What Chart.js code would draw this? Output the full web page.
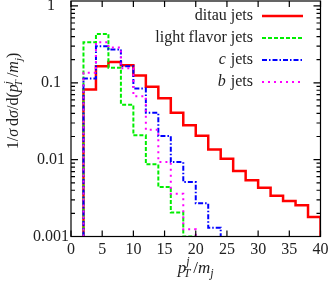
<!DOCTYPE html>
<html>
<head>
<meta charset="utf-8">
<script src="https://cdn.jsdelivr.net/npm/chart.js@4.4.1/dist/chart.umd.min.js"></script>
<style>
    html, body { margin: 0; padding: 0; background: #fff; }
    #wrap { width: 331px; height: 283px; }
</style>
</head>
<body>
<div id="wrap"><canvas id="chart"></canvas></div>
<script>
// Bin edges in p_T^j/m_j (bins are 2 wide, first one starts at 2)
const binEdges = [2, 4, 6, 8, 10, 12, 14, 16, 18, 20, 22, 24, 26, 28, 30, 32, 34, 36, 38, 40];

// Normalised distributions per bin (0 = empty bin)
const ditauJets = [0.082, 0.164, 0.186, 0.169, 0.124, 0.089, 0.063, 0.0407, 0.028, 0.0204,
                   0.0136, 0.0103, 0.0071, 0.0054, 0.0043, 0.0034, 0.0029, 0.00255, 0.0018];
const lightJets = [0.337, 0.433, 0.157, 0.052, 0.0207, 0.0087, 0.0044, 0.00205, 0.001, 0,
                   0, 0, 0, 0, 0, 0, 0, 0, 0];
const cJets     = [0.114, 0.299, 0.271, 0.164, 0.084, 0.0408, 0.0203, 0.0093, 0.0051, 0.0027,
                   0.0013, 0, 0, 0, 0, 0, 0, 0, 0];
const bJets     = [0.135, 0.337, 0.287, 0.155, 0.067, 0.0245, 0.0093, 0.0036, 0.00124, 0,
                   0, 0, 0, 0, 0, 0, 0, 0, 0];

const seriesNames = ['ditau jets', 'light flavor jets', 'c jets', 'b jets'];

const xTicks = [0, 5, 10, 15, 20, 25, 30, 35, 40];
const yTicks = [0.001, 0.01, 0.1, 1];
const yTickLabels = ['0.001', '0.01', '0.1', '1'];

const Y_MIN = 0.001;
const Y_MAX = 1.16;
const FONT = '"Liberation Serif", "Times New Roman", serif';

// turn bin values into points for a stepped line (drops to the floor at both ends)
function histPoints(vals) {
    const pts = [{ x: binEdges[0], y: Y_MIN }];
    let last = -1;
    vals.forEach((v, i) => {
        if (v > 0) {
            pts.push({ x: binEdges[i], y: v });
            last = i;
        }
    });
    pts.push({ x: binEdges[last + 1], y: Y_MIN });
    return pts;
}

// minor ticks 2..9 in every decade
const yMinor = [];
for (let d = 0; d < yTicks.length; d++) {
    for (let m = 2; m <= 9; m++) {
        const v = yTicks[d] * m;
        if (v <= Y_MAX) yMinor.push(v);
    }
}

// frame with inward ticks on all four sides
const frameTicks = {
    id: 'frameTicks',
    afterDatasetsDraw(chart) {
        const { ctx, chartArea: a, scales } = chart;
        ctx.save();
        ctx.strokeStyle = '#000';
        ctx.lineWidth = 1.2;
        ctx.strokeRect(a.left, a.top, a.right - a.left, a.bottom - a.top);
        ctx.beginPath();
        xTicks.forEach(v => {
            const px = scales.x.getPixelForValue(v);
            ctx.moveTo(px, a.bottom); ctx.lineTo(px, a.bottom - 6);
            ctx.moveTo(px, a.top); ctx.lineTo(px, a.top + 6);
        });
        yTicks.forEach(v => {
            const py = scales.y.getPixelForValue(v);
            ctx.moveTo(a.left, py); ctx.lineTo(a.left + 7, py);
            ctx.moveTo(a.right, py); ctx.lineTo(a.right - 7, py);
        });
        yMinor.forEach(v => {
            const py = scales.y.getPixelForValue(v);
            ctx.moveTo(a.left, py); ctx.lineTo(a.left + 4, py);
            ctx.moveTo(a.right, py); ctx.lineTo(a.right - 4, py);
        });
        ctx.stroke();
        ctx.restore();
    }
};

// draws a list of [text, italic, size, dy, extraGap] pieces starting at x
function drawPieces(ctx, pieces, x, y) {
    pieces.forEach(p => {
        ctx.font = (p[1] ? 'italic ' : '') + p[2] + 'px ' + FONT;
        ctx.fillText(p[0], x, y + p[3]);
        x += ctx.measureText(p[0]).width + (p[4] || 0);
    });
    return x;
}
function piecesWidth(ctx, pieces) {
    let w = 0;
    pieces.forEach(p => {
        ctx.font = (p[1] ? 'italic ' : '') + p[2] + 'px ' + FONT;
        w += ctx.measureText(p[0]).width + (p[4] || 0);
    });
    return w;
}

// legend in the top right corner, text right aligned, line sample to the right
const legendLabels = [
    [['ditau jets', false, 16, 0]],
    [['light flavor jets', false, 16, 0]],
    [['c', true, 16, 0, 1], [' jets', false, 16, 0]],
    [['b', true, 16, 0, 1], [' jets', false, 16, 0]]
];
const insideLegend = {
    id: 'insideLegend',
    afterDraw(chart) {
        const { ctx } = chart;
        ctx.save();
        ctx.fillStyle = '#222';
        ctx.textBaseline = 'middle';
        chart.data.datasets.forEach((ds, i) => {
            const y = 16 + i * 22;
            const w = piecesWidth(ctx, legendLabels[i]);
            drawPieces(ctx, legendLabels[i], 253 - w, y);
            ctx.strokeStyle = ds.borderColor;
            ctx.lineWidth = ds.borderWidth;
            ctx.setLineDash(ds.borderDash || []);
            ctx.beginPath();
            ctx.moveTo(262, y);
            ctx.lineTo(303, y);
            ctx.stroke();
            ctx.setLineDash([]);
        });
        ctx.restore();
    }
};

// axis titles with sub/superscripts
const axisTitles = {
    id: 'axisTitles',
    afterDraw(chart) {
        const { ctx, chartArea: a } = chart;
        ctx.save();
        ctx.fillStyle = '#222';
        ctx.textBaseline = 'alphabetic';

        const xPieces = [
            ['p', true, 17, 0],
            ['j', true, 12, -8, -6],
            ['T', true, 12, 4, 3],
            ['/', false, 17, 0],
            ['m', true, 17, 0],
            ['j', true, 12, 4]
        ];
        const xw = piecesWidth(ctx, xPieces);
        drawPieces(ctx, xPieces, (a.left + a.right) / 2 - xw / 2, 273);

        const yPieces = [
            ['1/', false, 16, 0],
            ['σ', true, 16, 0, 3],
            ['d', false, 16, 0],
            ['σ', true, 16, 0],
            ['/d(', false, 16, 0],
            ['p', true, 16, 0],
            ['j', true, 11, -7, -5],
            ['T', true, 11, 4, 3],
            ['/', false, 16, 0],
            ['m', true, 16, 0],
            ['j', true, 11, 4],
            [')', false, 16, 0]
        ];
        const yw = piecesWidth(ctx, yPieces);
        ctx.translate(18, 101);
        ctx.rotate(-Math.PI / 2);
        drawPieces(ctx, yPieces, -yw / 2, 0);
        ctx.restore();
    }
};

const ctx = document.getElementById('chart').getContext('2d');
const chart = new Chart(ctx, {
    type: 'line',
    data: {
        datasets: [
            { label: seriesNames[0], data: histPoints(ditauJets), borderColor: '#ff0000', borderWidth: 2.5, order: 4 },
            { label: seriesNames[1], data: histPoints(lightJets), borderColor: '#00ee00', borderWidth: 2, borderDash: [4, 2], order: 3 },
            { label: seriesNames[2], data: histPoints(cJets), borderColor: '#0000ff', borderWidth: 2, borderDash: [5, 2, 1.5, 2], order: 2 },
            { label: seriesNames[3], data: histPoints(bJets), borderColor: '#ff00ff', borderWidth: 2, borderDash: [2, 4], order: 1 }
        ].map(ds => Object.assign(ds, { stepped: true, pointRadius: 0, fill: false, tension: 0 }))
    },
    options: {
        responsive: true,
        maintainAspectRatio: false,
        animation: false,
        events: [],
        layout: { padding: { top: 1, right: 10.5, left: 0, bottom: 0 } },
        plugins: {
            legend: { display: false },
            tooltip: { enabled: false }
        },
        scales: {
            x: {
                type: 'linear',
                min: 0,
                max: 40,
                grid: { display: false, drawTicks: false },
                border: { display: false },
                afterBuildTicks: scale => {
                    scale.ticks = xTicks.map(v => ({ value: v }));
                    scale.min = 0;
                    scale.max = 40;
                },
                afterFit: scale => {
                    scale.height = 46.5;
                    scale.paddingLeft = 0;
                    scale.paddingRight = 0;
                },
                ticks: {
                    padding: 4,
                    maxRotation: 0,
                    color: '#222',
                    font: { family: FONT, size: 16 }
                }
            },
            y: {
                type: 'logarithmic',
                min: Y_MIN,
                max: Y_MAX,
                grid: { display: false, drawTicks: false },
                border: { display: false },
                afterBuildTicks: scale => {
                    scale.ticks = yTicks.map(v => ({ value: v }));
                    scale.min = Y_MIN;
                    scale.max = Y_MAX;
                },
                afterFit: scale => {
                    scale.width = 71;
                    scale.paddingTop = 0;
                    scale.paddingBottom = 0;
                },
                ticks: {
                    padding: 2,
                    crossAlign: 'center',
                    color: '#222',
                    font: { family: FONT, size: 16 },
                    callback: (v, i) => yTickLabels[i]
                }
            }
        }
    },
    plugins: [frameTicks, insideLegend, axisTitles]
});
</script>
</body>
</html>
